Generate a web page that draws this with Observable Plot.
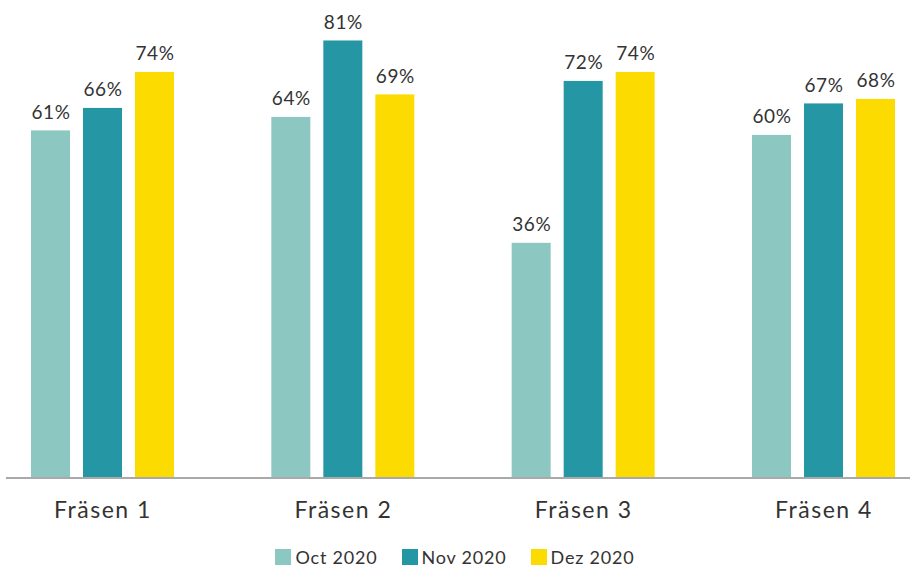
<!DOCTYPE html>
<html><head><meta charset="utf-8">
<script src="https://cdn.jsdelivr.net/npm/d3@7"></script>
<script src="https://cdn.jsdelivr.net/npm/@observablehq/plot@0.6"></script>
<style>
body{margin:0;background:#fff;font-family:Lato,sans-serif;}
#chart{width:910px;height:569px;overflow:hidden;}
div.lg-swatches{justify-content:center !important;margin:7px 0 0 0 !important;font-family:Lato,sans-serif !important;font-size:18px !important;color:#333;letter-spacing:0.8px;min-height:30px !important;}
div.lg-swatches .lg-swatch{margin-right:24px !important;}
div.lg-swatches .lg-swatch:last-child{margin-right:0 !important;}
div.lg-swatches .lg-swatch > svg{margin-right:4px !important;}
</style></head><body><div id="chart"></div>
<script>
const groups = ["Fräsen 1", "Fräsen 2", "Fräsen 3", "Fräsen 4"];
const series = ["Oct 2020", "Nov 2020", "Dez 2020"];
const oct = [61, 64, 36, 60];
const nov = [66, 81, 72, 67];
const dez = [74, 69, 74, 68];
const colors = ["#8DC7C2", "#2596A3", "#FCDB00"];
const yDomain = [-16.3, 90];

const seriesValues = [oct, nov, dez];
const data = groups.flatMap((g, i) => series.map((s, j) => ({group: g, series: s, value: seriesValues[j][i]})));

const chart = Plot.plot({
  width: 910, height: 535,
  marginLeft: 31, marginRight: 15, marginTop: 0, marginBottom: 57,
  style: {fontFamily: "Lato, sans-serif", color: "#333", background: "#fff", overflow: "visible"},
  fx: {domain: groups, paddingInner: 0.405, paddingOuter: 0, axis: null, round: false, label: null},
  x: {domain: series, paddingInner: 0.25, paddingOuter: 0, axis: null, round: false},
  y: {domain: yDomain, axis: null},
  color: {domain: series, range: colors},
  marks: [
    Plot.barY(data, {fx: "group", x: "series", y1: yDomain[0], y2: "value", fill: "series"}),
    Plot.text(data, {fx: "group", x: "series", y: "value", text: d => d.value + "%", lineAnchor: "bottom", dy: -12, fontSize: 19, fill: "#333"}),
    Plot.text(groups, {fx: d => d, text: d => d, frameAnchor: "bottom", lineAnchor: "bottom", dy: 39, fontSize: 23, fill: "#333"})
  ]
});

d3.select(chart).selectAll('g[font-size="23"]').attr("letter-spacing", "1.5");
d3.select(chart).selectAll('g[font-size="19"]').attr("letter-spacing", "0.6");
const ys = chart.scale("y");
const yb = ys.apply(yDomain[0]);
d3.select(chart).append("line")
  .attr("x1", 6).attr("x2", 910).attr("y1", yb).attr("y2", yb)
  .attr("stroke", "#a9a9a9").attr("stroke-width", 2);

const legend = Plot.legend({color: {domain: series, range: colors}, swatchSize: 16, className: "lg"});
const root = document.getElementById("chart");
root.appendChild(chart);
root.appendChild(legend);
</script></body></html>
